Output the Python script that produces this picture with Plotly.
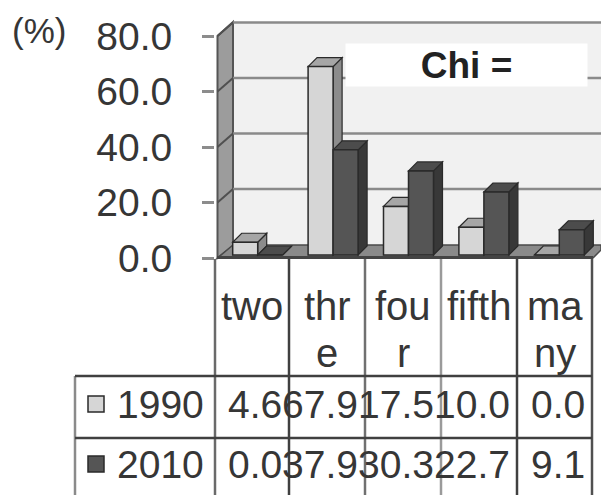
import plotly.graph_objects as go

# ---------------- data ----------------
categories = ["two", "thr<br>e", "fou<br>r", "fifth", "ma<br>ny"]
series_names = ["1990", "2010"]
values_1990 = [4.6, 67.9, 17.5, 10.0, 0.0]
values_2010 = [0.0, 37.9, 30.3, 22.7, 9.1]
y_ticks = [0, 20, 40, 60, 80]
unit_label = "(%)"
note_text = "Chi ="

# ---------------- layout constants (pixels) ----------------
W, H = 601, 495
FONT = "Liberation Sans, Arial, sans-serif"
TXT = "#363636"


def px(x):
    return x / W


def py(y):
    return 1 - y / H


PXU = 2.775               # pixels per % unit
Y_ZERO_TICK = 258         # pixel row of 0 on the tick marks (front wall edge)
Y_ZERO_BAR = 255          # pixel row of 0 for bar front faces
Y_BOTTOM = 262            # bottom of the plotting area (pixels)
X_AX = 217                # left edge of plotting area / front wall edge
X_CAT0 = 220              # left edge of first category slot for bars
cat_px = 75.4             # pixels per category
n = len(categories)


def xv(p):                # pixel column -> category units
    return (p - X_CAT0) / cat_px - 0.5


def yb(q):                # pixel row -> value units
    return (Y_ZERO_BAR - q) / PXU


bar_w = 25 / cat_px       # bar width in category units
dx = 9 / cat_px           # 3-D depth in x units
dy = 9 / PXU              # 3-D depth in y units
back_px = 13.5            # wall depth in pixels (vertical)

col_edges = [215, 289, 365, 441, 517, 592]
col_colors = ["#6a6a6a", "#404040", "#707070", "#9a9a9a", "#404040", "#505050"]
row_lines = [376, 438]
row_centers = [404, 464]
series_fill = ["#d6d6d6", "#555555"]
series_side = ["#8c8c8c", "#383838"]
series_top = ["#a6a6a6", "#4c4c4c"]
edge = "#2a2a2a"

fig = go.Figure()
all_vals = [values_1990, values_2010]
offsets = [-bar_w, 0.0]
xs = list(range(n))
for k, name in enumerate(series_names):
    fig.add_trace(go.Bar(
        x=xs, y=all_vals[k], name=name, width=bar_w, offset=offsets[k],
        marker=dict(color=series_fill[k], line=dict(color=edge, width=1.5)),
        showlegend=False, xaxis="x", yaxis="y", hoverinfo="skip",
    ))


def PP(pts):
    return "M " + " L ".join(f"{px(a)},{py(b)}" for a, b in pts) + " Z"


shapes = []
# walls and floor (paper, lowest layer)
shapes.append(dict(type="path", xref="paper", yref="paper", path=PP([(233, 22), (601, 22), (601, 246), (233, 246)]),
                   fillcolor="#f1f1f1", line=dict(width=0), layer="below"))
shapes.append(dict(type="path", xref="paper", yref="paper", path=PP([(217.5, 36), (233, 22), (233, 246), (217.5, 258)]),
                   fillcolor="#9c9c9c", line=dict(color="#555555", width=2), layer="below"))
shapes.append(dict(type="path", xref="paper", yref="paper",
                   path=PP([(217.5, 258), (233, 245), (601, 245), (601, 250), (593, 258)]),
                   fillcolor="#8a8a8a", line=dict(color="#4a4a4a", width=1.5), layer="below"))

# back wall gridlines and left-wall diagonals at the tick values
tick_pos = [yb(Y_ZERO_TICK - t * PXU) for t in y_ticks]
for t in y_ticks[1:]:
    qf = Y_ZERO_TICK - t * PXU
    qb = qf - back_px
    shapes.append(dict(type="line", xref="paper", yref="paper", x0=px(233), x1=1, y0=py(qb), y1=py(qb),
                       line=dict(color="#8a8a8a", width=2.5), layer="below"))
    shapes.append(dict(type="line", xref="paper", yref="paper", x0=px(217.5), x1=px(233), y0=py(qf), y1=py(qb),
                       line=dict(color="#505050", width=2), layer="below"))
# front edge of floor
shapes.append(dict(type="line", xref="paper", yref="paper", x0=px(217), x1=px(593), y0=py(257.5), y1=py(257.5),
                   line=dict(color="#444444", width=3), layer="below"))

# 3-D faces of bars
for i in xs:
    for k in range(2):
        v = all_vals[k][i]
        xl = i + offsets[k]
        xr = xl + bar_w
        shapes.append(dict(type="path", xref="x", yref="y",
                           path=f"M {xr},{v} L {xr+dx},{v+dy} L {xr+dx},{dy} L {xr},0 Z",
                           fillcolor=series_side[k], line=dict(color=edge, width=1.2), layer="between"))
        shapes.append(dict(type="path", xref="x", yref="y",
                           path=f"M {xl},{v} L {xl+dx},{v+dy} L {xr+dx},{v+dy} L {xr},{v} Z",
                           fillcolor=series_top[k], line=dict(color=edge, width=1.2), layer="between"))

# table grid
for xe, c in zip(col_edges, col_colors):
    shapes.append(dict(type="line", xref="paper", yref="paper", x0=px(xe), x1=px(xe), y0=py(259), y1=0,
                       line=dict(color=c, width=2.5), layer="above"))
shapes.append(dict(type="line", xref="paper", yref="paper", x0=px(75), x1=px(75), y0=py(row_lines[0]), y1=0,
                   line=dict(color="#8a8a8a", width=2.5), layer="above"))
for yl in row_lines:
    shapes.append(dict(type="line", xref="paper", yref="paper", x0=px(75), x1=px(592), y0=py(yl), y1=py(yl),
                       line=dict(color="#404040", width=2.5), layer="above"))
# legend keys
for k in range(2):
    yc = row_centers[k]
    shapes.append(dict(type="rect", xref="paper", yref="paper", x0=px(88), x1=px(104), y0=py(yc + 8), y1=py(yc - 8),
                       fillcolor=series_fill[k], line=dict(color=edge, width=1.5), layer="above"))

annotations = []
annotations.append(dict(text=unit_label, x=px(39), y=py(31), xref="paper", yref="paper", showarrow=False,
                        font=dict(family=FONT, size=35, color=TXT), xanchor="center", yanchor="middle"))
annotations.append(dict(text="<b>" + note_text + "</b>", x=px(466), y=py(65), xref="paper", yref="paper",
                        showarrow=False, font=dict(family=FONT, size=37, color="#222222"),
                        xanchor="center", yanchor="middle", width=239, height=40, bgcolor="#ffffff"))
# header labels
for i, lab in enumerate(categories):
    cx = (col_edges[i] + col_edges[i + 1]) / 2
    for j, line in enumerate(lab.split("<br>")):
        annotations.append(dict(text=line, x=px(cx), y=py(306 + 47 * j), xref="paper", yref="paper",
                                showarrow=False, font=dict(family=FONT, size=40, color=TXT),
                                xanchor="center", yanchor="middle"))
# row headers and values
for k, name in enumerate(series_names):
    yc = row_centers[k]
    annotations.append(dict(text=name, x=px(206), y=py(yc), xref="paper", yref="paper", showarrow=False,
                            font=dict(family=FONT, size=39, color=TXT), xanchor="right", yanchor="middle"))
    for i, v in enumerate(all_vals[k]):
        annotations.append(dict(text=f"{v:.1f}", x=px(col_edges[i + 1] - 5), y=py(yc), xref="paper",
                                yref="paper", showarrow=False, font=dict(family=FONT, size=39, color=TXT),
                                xanchor="right", yanchor="middle"))

fig.update_layout(
    width=W, height=H, autosize=False,
    margin=dict(l=0, r=0, t=0, b=0, pad=0, autoexpand=False),
    paper_bgcolor="#ffffff", plot_bgcolor="rgba(0,0,0,0)",
    barmode="overlay", showlegend=False,
    xaxis=dict(domain=[px(X_AX - 2), 1], range=[xv(X_AX - 2), xv(W)], visible=False,
               fixedrange=True, automargin=False),
    yaxis=dict(domain=[py(Y_BOTTOM), 1], range=[yb(Y_BOTTOM), yb(0)],
               tickvals=tick_pos, ticktext=[f"{t:.1f}" for t in y_ticks],
               ticks="outside", ticklen=12, tickwidth=3, tickcolor="#8c8c8c",
               showline=False, showgrid=False, zeroline=False,
               tickfont=dict(family=FONT, size=39, color=TXT), ticklabelstandoff=22,
               fixedrange=True, automargin=False),
    shapes=shapes, annotations=annotations,
)
fig.write_html("out.html")
